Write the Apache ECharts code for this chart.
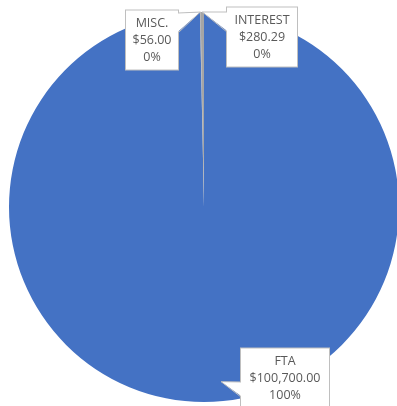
<!DOCTYPE html>
<html>
<head>
<meta charset="utf-8">
<script src="https://cdn.jsdelivr.net/npm/echarts@6/dist/echarts.min.js"></script>
<style>
  html, body { margin: 0; padding: 0; background: #fff; }
  #chart { width: 397px; height: 406px; }
</style>
</head>
<body>
<div id="chart"></div>
<script>
// Revenue sources
const categories = ['FTA', 'MISC.', 'INTEREST'];
const amounts = [100700.00, 56.00, 280.29];
const sliceColors = ['#4472C4', '#A5A5A5', '#A5A5A5'];

// Callout boxes: centre, text width, the side the pointer leaves from,
// the pointer base (offsets from box centre), and where the tip sits relative
// to the slice's middle (fraction of radius, turn in degrees)
const callouts = {
  'FTA':      { x: 285, y: 378, w: 78, side: 'left',  base: [4, 19],   tipR: 0.9, tipTurn: -5 },
  'MISC.':    { x: 152, y: 40,  w: 42, side: 'right', base: [-27, -7], tipR: 1.0, tipTurn: 0 },
  'INTEREST': { x: 262, y: 37,  w: 60, side: 'left',  base: [-25, -5], tipR: 1.0, tipTurn: 0 }
};
const PAD_X = 5;
const BORDER = '#BFBFBF';

function money(v) {
  return '$' + v.toLocaleString('en-US', { minimumFractionDigits: 2, maximumFractionDigits: 2 });
}

const chart = echarts.init(document.getElementById('chart'), null, { renderer: 'canvas' });

chart.setOption({
  animation: false,
  series: [{
    type: 'pie',
    center: [204, 207],
    radius: 195,
    startAngle: 90,
    clockwise: true,
    percentPrecision: 0,
    avoidLabelOverlap: false,
    itemStyle: { borderWidth: 0 },
    data: categories.map((name, i) => ({
      name: name,
      value: amounts[i],
      itemStyle: { color: sliceColors[i] },
      label: { width: callouts[name].w }
    })),
    label: {
      show: true,
      position: 'outside',
      formatter: p => p.name + '\n' + money(p.value) + '\n' + Math.round(p.percent) + '%',
      fontFamily: 'Open Sans',
      fontSize: 12.5,
      lineHeight: 17,
      color: '#595959',
      align: 'center',
      overflow: 'none',
      backgroundColor: '#ffffff',
      borderColor: BORDER,
      borderWidth: 1,
      padding: [4, PAD_X, 4, PAD_X]
    },
    labelLine: { show: false },
    labelLayout: function (params) {
      const c = callouts[categories[params.dataIndex]];
      return { x: c.x, y: c.y, align: 'center', verticalAlign: 'middle' };
    }
  }]
});

// Callout pointers: a white wedge from each box to its slice, tip taken from the pie's own layout
const pieData = chart.getModel().getSeriesByIndex(0).getData();
const pointers = [];
categories.forEach((name, i) => {
  const lay = pieData.getItemLayout(i);
  const c = callouts[name];
  const ang = (lay.startAngle + lay.endAngle) / 2 + c.tipTurn * Math.PI / 180;
  const tip = [lay.cx + lay.r * c.tipR * Math.cos(ang), lay.cy + lay.r * c.tipR * Math.sin(ang)];
  const half = c.w / 2 + PAD_X;
  const edgeX = c.side === 'left' ? c.x - half : c.x + half;
  const inX = c.side === 'left' ? edgeX + 1.5 : edgeX - 1.5;
  const b0 = [edgeX, c.y + c.base[0]];
  const b1 = [edgeX, c.y + c.base[1]];
  pointers.push({
    type: 'polygon', z: 100, silent: true,
    shape: { points: [[inX, b0[1]], tip, [inX, b1[1]]] },
    style: { fill: '#ffffff', stroke: null }
  });
  pointers.push({
    type: 'polyline', z: 101, silent: true,
    shape: { points: [b0, tip, b1] },
    style: { stroke: BORDER, lineWidth: 1, fill: null }
  });
});
chart.setOption({ graphic: pointers });
</script>
</body>
</html>
